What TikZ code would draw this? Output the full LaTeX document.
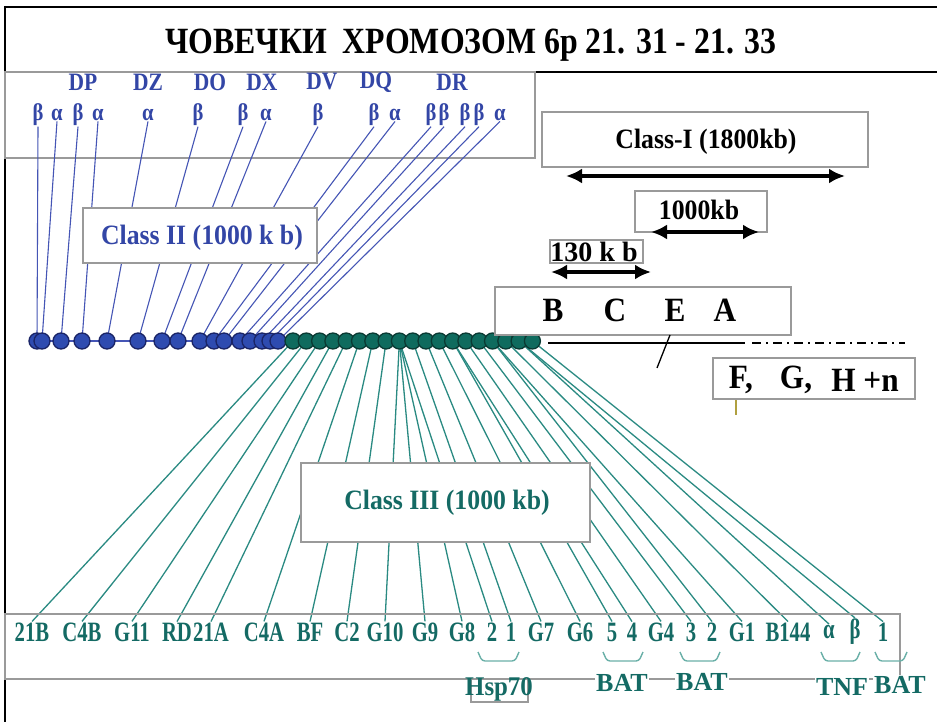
\documentclass[tikz,border=0pt]{standalone}
\usepackage{fontspec}
\setmainfont{Liberation Serif}
\newfontfamily\cf[FakeStretch=0.8]{Liberation Serif}
\newfontfamily\cfm[FakeStretch=0.86]{Liberation Serif}
\newfontfamily\cfw[FakeStretch=0.92]{Liberation Serif}
\newfontfamily\cfn[FakeStretch=0.74]{Liberation Serif}
\usetikzlibrary{arrows.meta}
\definecolor{bblue}{HTML}{3346A6}
\definecolor{bline}{HTML}{4555B5}
\definecolor{bfill}{HTML}{2E4BB0}
\definecolor{bdark}{HTML}{1A2466}
\definecolor{tteal}{HTML}{146A64}
\definecolor{tline}{HTML}{2A8A82}
\definecolor{tfill}{HTML}{0F6B5E}
\definecolor{tdark}{HTML}{0A3A33}
\definecolor{boxgray}{HTML}{9A9A9A}
\definecolor{braceteal}{HTML}{6AB0A8}
\definecolor{ticko}{HTML}{B0A040}
\tikzset{
  box/.style={draw=boxgray, line width=1.3pt, fill=white, inner sep=0pt},
  genelbl/.style={text=bblue, font=\cfm\bfseries\fontsize{25}{26}\selectfont, inner sep=0.5pt},
  greek/.style={text=bblue, font=\cfm\bfseries\fontsize{24}{25}\selectfont, inner sep=0.5pt},
  botlbl/.style={text=tteal, font=\cfn\bfseries\fontsize{28}{30}\selectfont, inner sep=1pt},
  sublbl/.style={text=tteal, font=\bfseries\fontsize{26}{28}\selectfont, inner sep=1pt, fill=white},
  blk/.style={text=black, font=\cfw\bfseries\fontsize{28}{30}\selectfont, inner sep=1pt},
  bigblk/.style={text=black, font=\cfw\bfseries\fontsize{34}{36}\selectfont, inner sep=1pt},
  bbead/.style={circle, minimum size=16pt, inner sep=0pt, fill=bfill, draw=bdark, line width=1.3pt},
  tbead/.style={circle, minimum size=16pt, inner sep=0pt, fill=tfill, draw=tdark, line width=1.3pt},
  bconn/.style={draw=bline, line width=1.1pt},
  tconn/.style={draw=tline, line width=1.3pt},
  dbl/.style={line width=3.2pt, {Latex[length=16pt,width=15pt]}-{Latex[length=16pt,width=15pt]}},
  bracket/.style={draw=braceteal, line width=1.4pt, rounded corners=3pt},
}
\begin{document}
\begin{tikzpicture}[x=1pt,y=-1pt]
\useasboundingbox (0,0) rectangle (937,722);
\fill[white] (0,0) rectangle (937,722);
% frame
\draw[black, line width=2.6pt] (5,7) -- (937,7);
\draw[black, line width=2.6pt] (5,6) -- (5,722);
\draw[black, line width=2pt] (535,72) -- (937,72);
\draw[boxgray, line width=1.3pt] (5,72) rectangle (535,158);
% title
\node[text=black, font=\cfm\bfseries\fontsize{37}{39}\selectfont, inner sep=0pt] (title) at (471,45) {ЧОВЕЧКИ\ \ ХРОМОЗОМ 6р 21. 31 - 21. 33};
% gene labels
\node[genelbl] (DP) at (83,82) {DP};
\node[genelbl] (DZ) at (148,82) {DZ};
\node[genelbl] (DO) at (210,82) {DO};
\node[genelbl] (DX) at (262,82) {DX};
\node[genelbl] (DV) at (322,82) {DV};
\node[genelbl] (DQ) at (376,82) {DQ};
\node[genelbl] (DR) at (452,82) {DR};
% greek letters
\foreach \i/\x/\g in {1/38/β,2/57/α,3/78/β,4/98/α,5/148/α,6/198/β,7/243/β,8/266/α,9/318/β,10/374/β,11/395/α,12/431/β,13/444/β,14/465/β,15/479/β,16/500/α}{
  \node[greek] (g\i) at (\x,115) {\g};
}
% blue beads positions
\foreach \i/\x in {1/37,2/42,3/61,4/82,5/107,6/138,7/162,8/178,9/200,10/214,11/224,12/240,13/250,14/262,15/270,16/278}{
  \coordinate (bc\i) at (\x,341);
}
% teal bead positions
\foreach \i in {1,...,19}{
  \pgfmathsetmacro{\tx}{293+13.3*(\i-1)}
  \coordinate (tc\i) at (\tx,341);
}
% bottom labels
\foreach \i/\x/\t in {1/32/21B,2/82/C4B,3/132/G11,4/177/RD,5/211/21A,6/264/C4A,7/310/BF,8/347/C2,9/385/G10,10/425/G9,11/462/G8,12/492/2,13/511/1,14/541/G7,15/580/G6,16/612/5,17/632/4,18/661/G4,19/691/3,20/712/2,21/742/G1,22/788/B144,23/829/α,24/855/β,25/883/1}{
  \node[botlbl] (L\i) at (\x,632) {\t};
}
% teal connectors
\foreach \i/\b in {1/1,2/2,3/3,4/4,5/5,6/6,7/7,8/8,9/9,10/9,11/9,12/9,13/10,14/11,15/12,16/13,17/13,18/14,19/15,20/16,21/16,22/17,23/18,24/18,25/19}{
  \draw[tconn] (tc\b) -- (L\i.north);
}
% blue connectors
\foreach \i in {1,...,16}{
  \draw[bconn] (g\i.south) -- (bc\i);
}
% chromosome backbone
\draw[bline, line width=1.4pt] (bc1) -- (bc16);
\foreach \i in {1,...,16}{ \node[bbead] (b\i) at (bc\i) {}; }
\foreach \i in {1,...,19}{ \node[tbead] (t\i) at (tc\i) {}; }
% right side line
\coordinate (ls) at (548,343);
\coordinate (le) at (745,343);
\coordinate (ds) at (752,343);
\coordinate (de) at (905,343);
\draw[black, line width=2pt] (ls) -- (le);
\draw[black, line width=2pt, dash pattern=on 9pt off 5pt on 2pt off 5pt] (ds) -- (de);
% class II and III boxes
\node[box, minimum width=234pt, minimum height=55pt] (c2) at (200,235.5) {};
\node[text=bblue, font=\cfw\bfseries\fontsize{28}{30}\selectfont] (c2t) at (202,238) {Class II (1000 k b)};
\node[box, minimum width=289pt, minimum height=79pt] (c3) at (445.5,502.5) {};
\node[text=tteal, font=\cfw\bfseries\fontsize{28}{30}\selectfont] (c3t) at (447,503) {Class III (1000 kb)};
% class I
\node[box, minimum width=326pt, minimum height=55pt] (c1) at (705,139.5) {};
\node[blk] (c1t) at (706,142) {Class-I (1800kb)};
\coordinate (a1s) at (566,176);
\coordinate (a1e) at (845,176);
\draw[dbl] (a1s) -- (a1e);
% 1000 kb
\node[box, minimum width=132pt, minimum height=41pt] (k1) at (701,211.5) {};
\node[blk] (k1t) at (699,210) {1000kb};
\coordinate (a2s) at (651,232);
\coordinate (a2e) at (759,232);
\draw[dbl] (a2s) -- (a2e);
% 130 kb
\node[box, minimum width=93pt, minimum height=23pt] (k2) at (596.5,251.5) {};
\node[blk, font=\bfseries\fontsize{28}{30}\selectfont] (k2t) at (594,252) {130 k b};
\coordinate (a3s) at (551,272);
\coordinate (a3e) at (651,272);
\draw[dbl] (a3s) -- (a3e);
% BCEA
\node[box, minimum width=296pt, minimum height=48pt] (bcea) at (643,311) {};
\node[bigblk] (B) at (553,310) {B};
\node[bigblk] (C) at (615,310) {C};
\node[bigblk] (E) at (675,310) {E};
\node[bigblk] (A) at (725,310) {A};
\coordinate (sl1) at (670,335);
\coordinate (sl2) at (657,368);
\draw[black, line width=1.3pt] (sl1) -- (sl2);
% F G H
\node[box, minimum width=202pt, minimum height=41pt] (fgh) at (814,378.5) {};
\node[bigblk] (F) at (741,380) {F,};
\node[bigblk] (G) at (796,380) {G,};
\node[bigblk] (H) at (865,380) {H +n};
\coordinate (tk1) at (736,400);
\coordinate (tk2) at (736,415);
\draw[ticko, line width=1.2pt] (tk1) -- (tk2);
% bottom box
\draw[boxgray, line width=1.3pt] (5,614) rectangle (900,679);
\draw[boxgray, line width=1.3pt] (471,679) rectangle (528,702);
% brackets
\foreach \a/\b in {478/519,603/643,680/720,821/860,875/907}{
  \draw[bracket] (\a,652) -- (\a+4,661) -- (\b-4,661) -- (\b,652);
}
\node[sublbl, fill=none, font=\cfw\bfseries\fontsize{27}{28}\selectfont] (hsp) at (499,689) {Hsp70};
\node[sublbl] (bat1) at (622,683) {BAT};
\node[sublbl] (bat2) at (702,682) {BAT};
\node[sublbl] (tnf) at (842,687) {TNF};
\node[sublbl] (bat3) at (900,685) {BAT};
\end{tikzpicture}
\end{document}
